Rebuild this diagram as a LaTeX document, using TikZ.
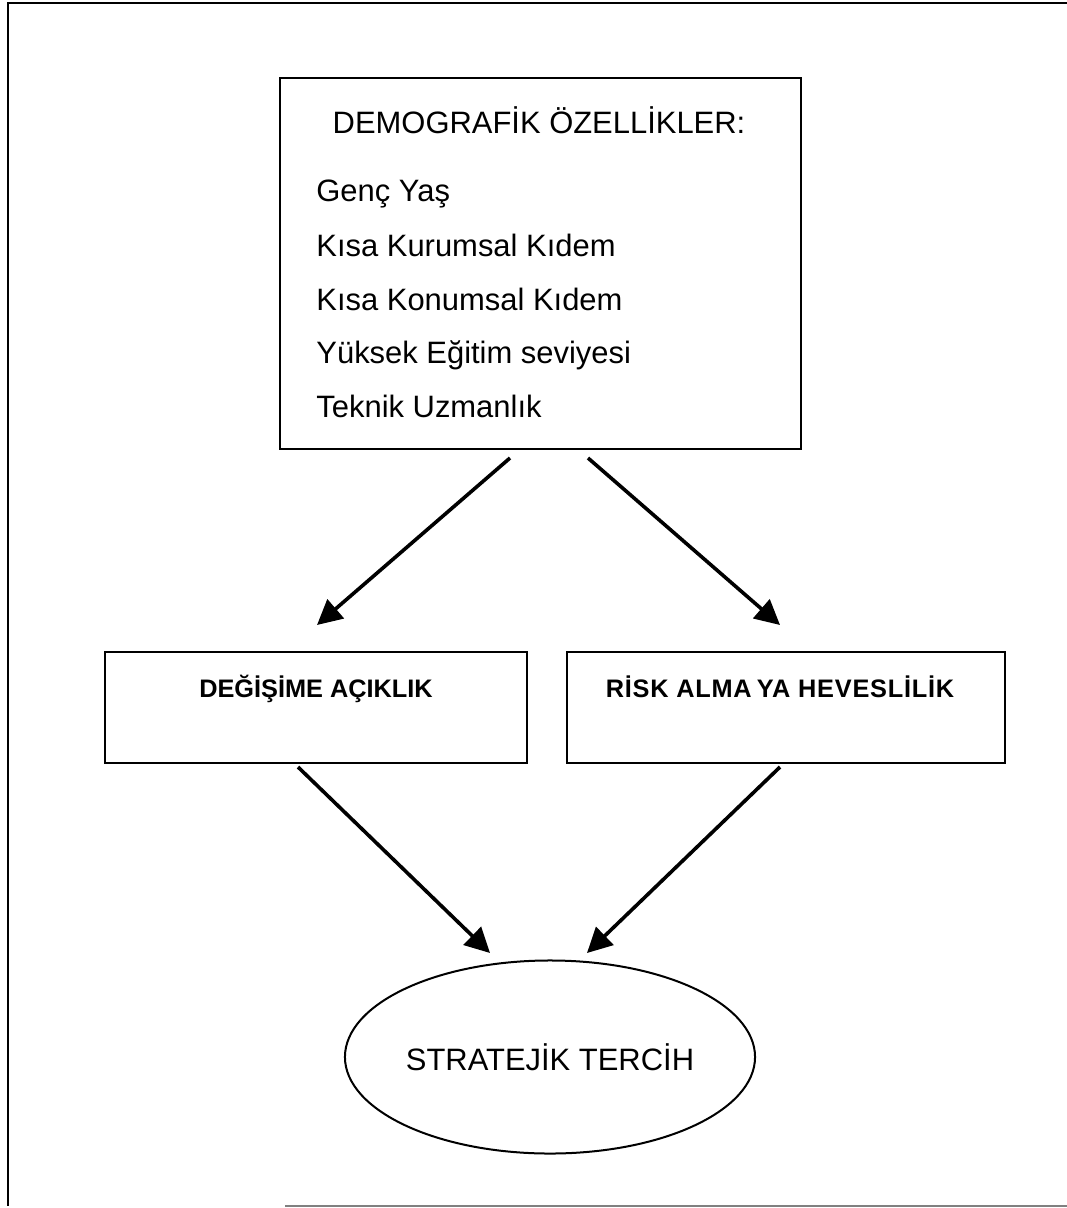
\documentclass[tikz,border=0pt]{standalone}
\usepackage{fontspec}
\setmainfont{Liberation Sans}
\usepackage{tikz}
\usetikzlibrary{arrows.meta,shapes.geometric}

\begin{document}
\begin{tikzpicture}[x=0.025cm,y=-0.025cm,semithick,>={Triangle[length=0.62cm,width=0.62cm]}]
    \tikzstyle{frame}=[draw=black, line width=0.05cm]
    \tikzstyle{box}=[draw=black, line width=0.05cm, rectangle, inner sep=0pt, outer sep=0pt]
    \tikzstyle{oval}=[draw=black, line width=0.05cm, ellipse, inner sep=0pt, outer sep=0pt, minimum width=10.25cm, minimum height=4.825cm, font=\fontsize{22}{26}\selectfont]
    \tikzstyle{txt}=[inner sep=0pt, font=\fontsize{22}{26}\selectfont]
    \tikzstyle{btxt}=[inner sep=0pt, font=\fontsize{18}{22}\selectfont\bfseries]
    \tikzstyle{arr}=[->, line width=0.09cm]

    \useasboundingbox (0,0) rectangle (1066,1208);

    % outer frame
    \draw[frame] (1070,3) -- (8,3) -- (8,1206);
    \draw[frame, draw=gray] (285,1206) -- (1070,1206);

    % demographic box
    \node[box, minimum width=13.025cm, minimum height=9.275cm] (demo) at (540.5,263.5) {};
    \node[txt, anchor=base] (head) at (539,134) {DEMOGRAF\.IK \"OZELL\.IKLER:};
    \node[txt, anchor=base west] (yas)    at (316,202) {Genç Yaş};
    \node[txt, anchor=base west] (kurum)  at (316,257) {Kısa Kurumsal Kıdem};
    \node[txt, anchor=base west] (konum)  at (316,310) {Kısa Konumsal Kıdem};
    \node[txt, anchor=base west] (egitim) at (316,363) {Yüksek Eğitim seviyesi};
    \node[txt, anchor=base west] (teknik) at (316,417) {Teknik Uzmanlık};

    % middle boxes
    \node[box, minimum width=10.55cm, minimum height=2.775cm] (degisim) at (316,707.5) {};
    \node[btxt, anchor=base] (degisimt) at (316,697) {DEĞİŞİME AÇIKLIK};
    \node[box, minimum width=10.95cm, minimum height=2.775cm] (risk) at (786,707.5) {};
    \node[btxt, anchor=base] (riskt) at (780,697) {\addfontfeature{LetterSpace=3}RİSK ALMA\hspace{0.2em}YA HEVESLİLİK};

    % result
    \node[oval] (tercih) at (550,1057) {STRATEJİK TERCİH};

    % arrow ends
    \coordinate (d1) at (510,458);
    \coordinate (d2) at (588,458);
    \coordinate (g1) at (317,625);
    \coordinate (r1) at (780,625);
    \coordinate (g2) at (298,767);
    \coordinate (r2) at (780,767);
    \coordinate (t1) at (490,953);
    \coordinate (t2) at (587,953);

    \path
     (d1) edge[arr] (g1)
     (d2) edge[arr] (r1)
     (g2) edge[arr] (t1)
     (r2) edge[arr] (t2)
     ;
\end{tikzpicture}
\end{document}
